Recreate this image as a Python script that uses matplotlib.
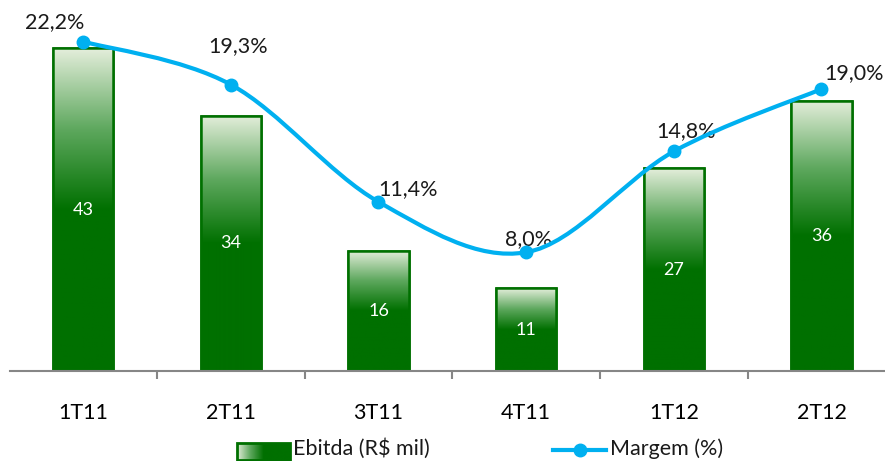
import numpy as np
import matplotlib.pyplot as plt
from matplotlib.path import Path
from matplotlib.patches import PathPatch, Rectangle
from matplotlib.colors import LinearSegmentedColormap
from matplotlib.lines import Line2D

# data
quarters = ['1T11', '2T11', '3T11', '4T11', '1T12', '2T12']
ebitda = [43, 34, 16, 11, 27, 36]
margem = [22.2, 19.3, 11.4, 8.0, 14.8, 19.0]
margem_labels = ['22,2%', '19,3%', '11,4%', '8,0%', '14,8%', '19,0%']
label_offsets = [(-28, 19), (7, 38), (30, 13), (2, 13), (12, 20), (33, 16)]

plt.rcParams['font.family'] = ['Lato', 'DejaVu Sans']

W, H = 885, 461
fig = plt.figure(figsize=(W / 100, H / 100), dpi=100)
ax = fig.add_axes([10 / W, (H - 371) / H, (W - 10) / W, 371 / H])
ax2 = ax.twinx()

green_dark = '#007000'
cmap = LinearSegmentedColormap.from_list(
    'grn', [(0.0, '#e4eedb'), (0.5, '#5ea85e'), (1.0, green_dark)])
grad = np.linspace(0, 1, 256).reshape(-1, 1)
grad = np.clip(grad * 2, 0, 1)

x = np.arange(len(quarters))
bar_w = 0.41
bars = ax.bar(x, ebitda, width=bar_w, color=green_dark, edgecolor=green_dark,
              linewidth=1.8, zorder=2)
for rect, v in zip(bars, ebitda):
    x0 = rect.get_x()
    im = ax.imshow(grad, cmap=cmap, aspect='auto', vmin=0, vmax=1,
                   extent=(x0, x0 + bar_w, 0, v), origin='upper', zorder=2.1)
    im.set_clip_path(rect)
    ax.add_patch(Rectangle((x0, 0), bar_w, v, fill=False,
                           edgecolor=green_dark, linewidth=1.8, zorder=2.2))
    ax.text(x0 + bar_w / 2, v / 2, str(v), color='white', fontsize=13,
            ha='center', va='center', zorder=3)

for a in (ax, ax2):
    for s in ['top', 'right', 'left']:
        a.spines[s].set_visible(False)
    a.set_yticks([])
ax2.spines['bottom'].set_visible(False)
ax.spines['bottom'].set_color('#868686')
ax.spines['bottom'].set_linewidth(1.5)

ax.set_xticks(np.arange(-0.5, 6, 1))
ax.set_xticklabels([])
ax.tick_params(axis='x', which='major', length=6, width=1.5, color='#868686')
ax.set_xticks(x, minor=True)
ax.set_xticklabels(quarters, minor=True, fontsize=15.5)
ax.tick_params(axis='x', which='minor', length=0, pad=23)

# smoothed margin line (cubic bezier, Catmull-Rom style control points)
pts = np.column_stack([x, margem]).astype(float)
ext = np.vstack([pts[0], pts, pts[-1]])
verts = [tuple(pts[0])]
codes = [Path.MOVETO]
for i in range(len(pts) - 1):
    p0, p1, p2, p3 = ext[i], ext[i + 1], ext[i + 2], ext[i + 3]
    c1 = p1 + (p2 - p0) / 6
    c2 = p2 - (p3 - p1) / 6
    verts += [tuple(c1), tuple(c2), tuple(p2)]
    codes += [Path.CURVE4] * 3
line_color = '#00b0f0'
ax2.add_patch(PathPatch(Path(verts, codes), fill=False, edgecolor=line_color,
                        linewidth=3, zorder=4, capstyle='round'))
ax2.plot(x, margem, 'o', color=line_color, markersize=9, zorder=5)
for xi, m, lab, off in zip(x, margem, margem_labels, label_offsets):
    ax2.annotate(lab, (xi, m), xytext=off, textcoords='offset pixels',
                 ha='center', va='center', fontsize=15.5, color='#1a1a1a')

ax.set_xlim(-0.495, 5.43)
ax.set_ylim(0, 49.4)
ax2.set_ylim(0, 25)

# legend
lax = fig.add_axes([237 / W, (H - 460) / H, 53 / W, 17 / H])
lax.imshow(np.clip(np.linspace(0, 1, 256).reshape(1, -1) * 2, 0, 1), cmap=cmap,
           aspect='auto', vmin=0, vmax=1, extent=(0, 1, 0, 1))
lax.add_patch(Rectangle((0, 0), 1, 1, fill=False, edgecolor=green_dark,
                        linewidth=2, transform=lax.transAxes, clip_on=False))
lax.set_xlim(0, 1)
lax.set_ylim(0, 1)
lax.axis('off')
fig.text(293 / W, (H - 449) / H, 'Ebitda (R$ mil)', fontsize=15.5,
         va='center', ha='left', color='#1a1a1a')
fig.add_artist(Line2D([553 / W, 606 / W], [(H - 450) / H] * 2,
                      color=line_color, linewidth=3,
                      transform=fig.transFigure))
fig.add_artist(Line2D([580 / W], [(H - 450) / H], marker='o', markersize=9,
                      color=line_color, transform=fig.transFigure))
fig.text(610 / W, (H - 449) / H, 'Margem (%)', fontsize=15.5,
         va='center', ha='left', color='#1a1a1a')

fig.savefig('out.png', dpi=100)
